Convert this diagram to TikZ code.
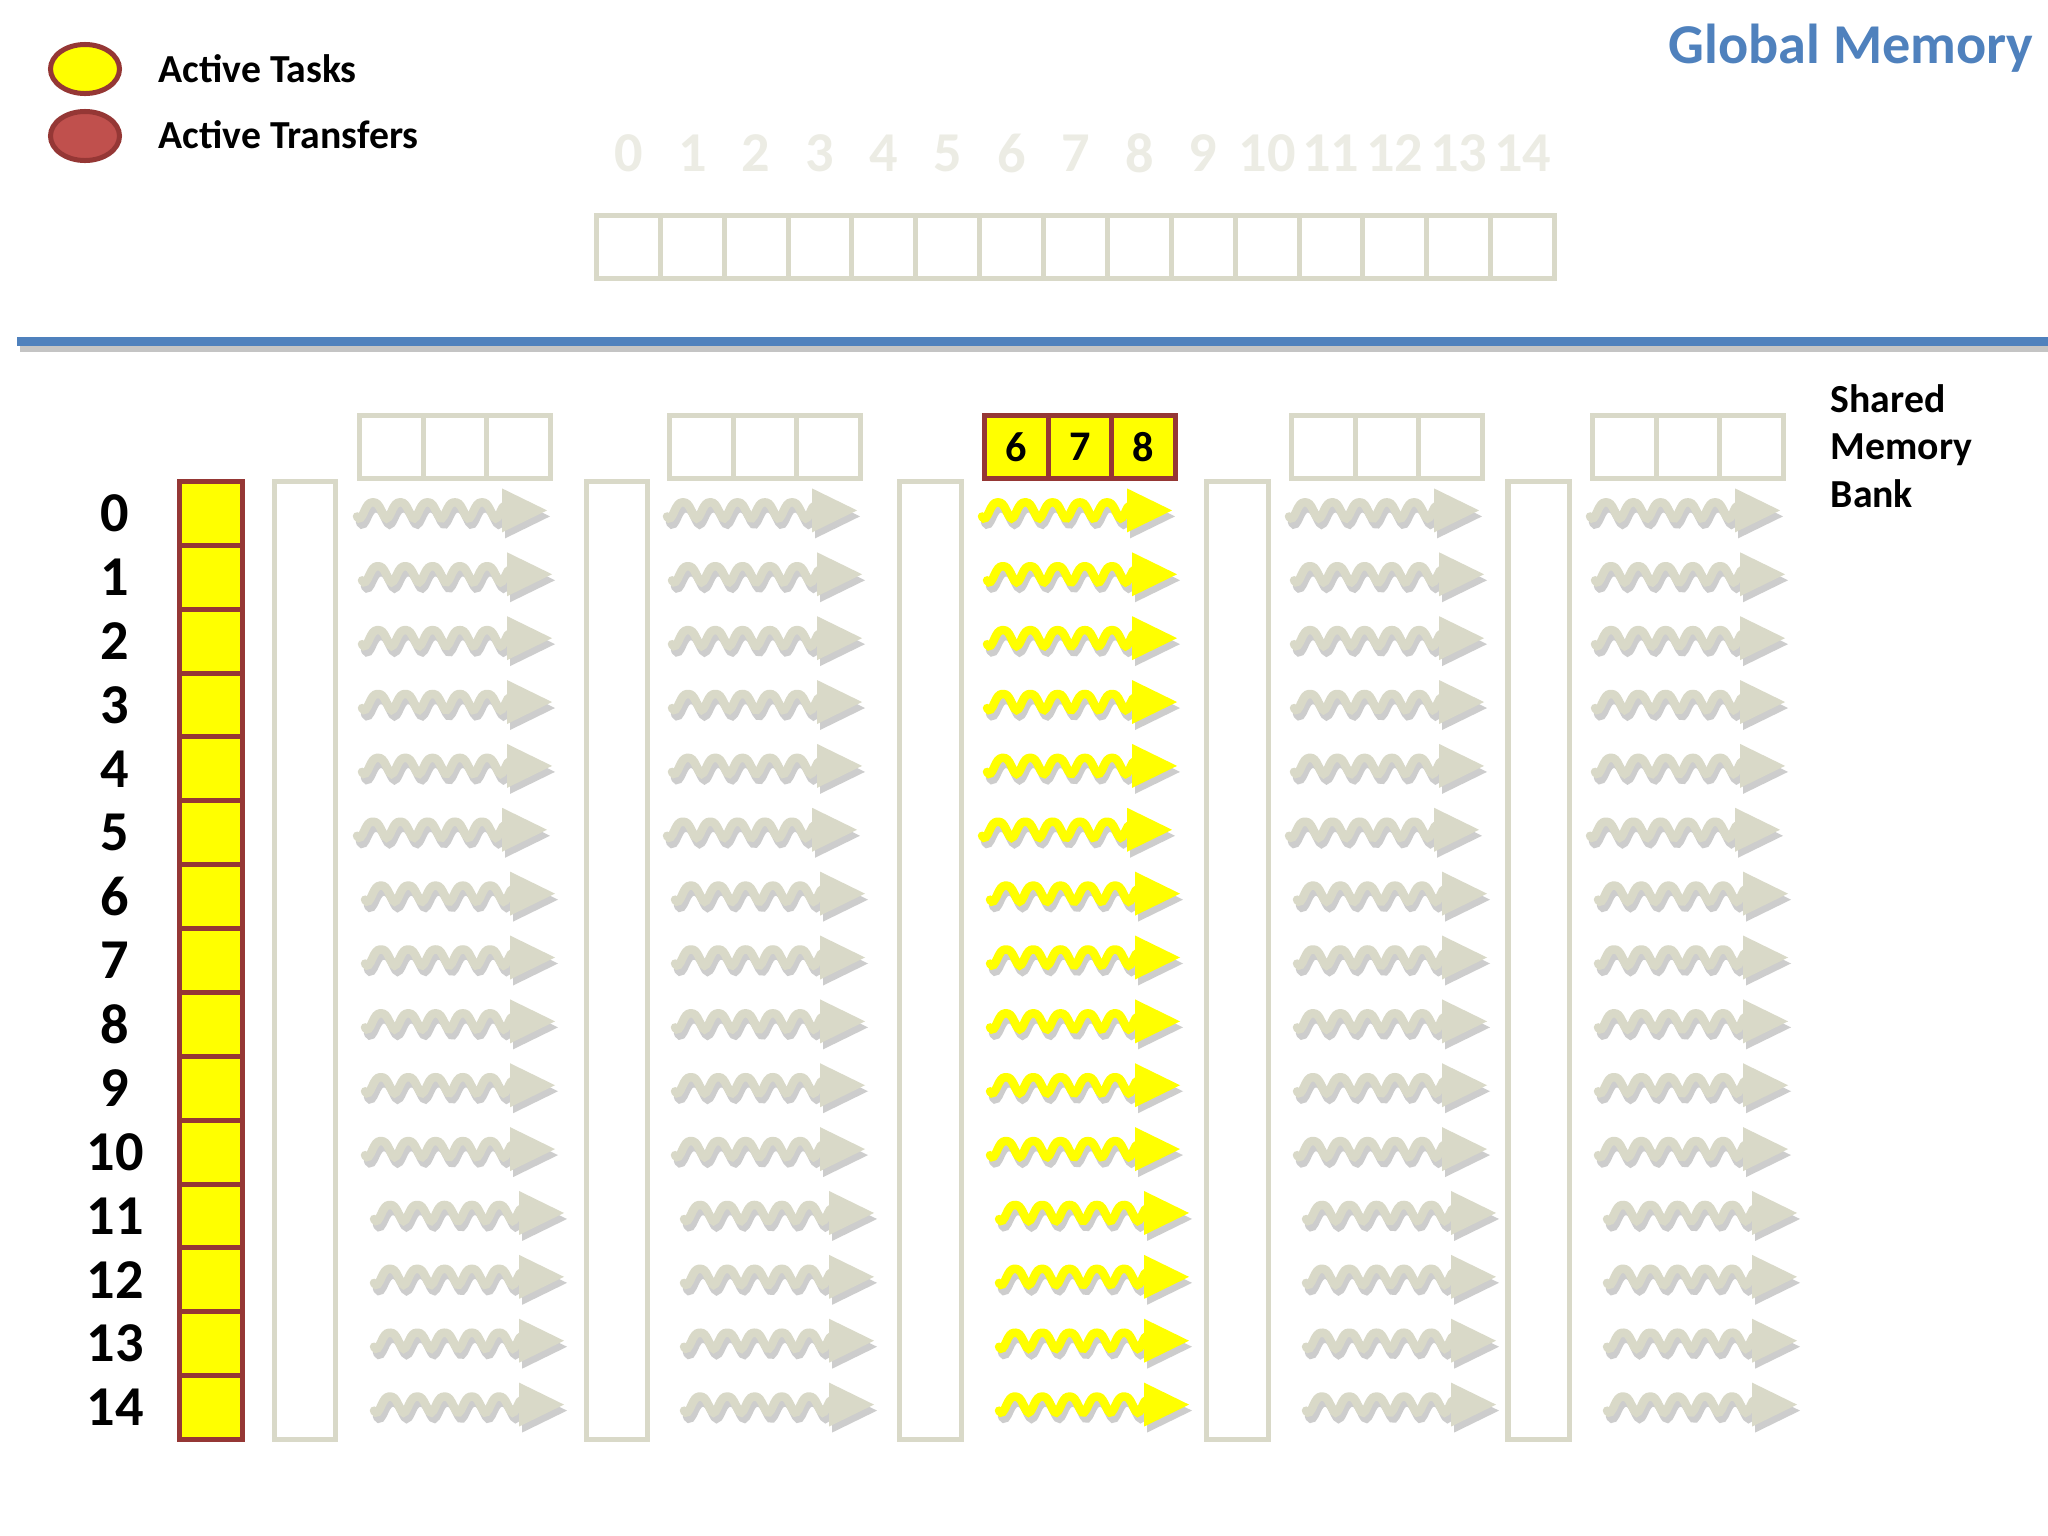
\documentclass[tikz,border=0pt]{standalone}
\usepackage{fontspec}
\setmainfont{Carlito}
\usetikzlibrary{shapes.geometric}
\definecolor{myKhaki}{RGB}{217,217,200}
\definecolor{myPale}{RGB}{236,236,228}
\definecolor{myShadow}{RGB}{205,205,205}
\definecolor{myLineShadow}{RGB}{196,196,196}
\definecolor{myDred}{RGB}{149,55,53}
\definecolor{myLred}{RGB}{192,80,77}
\definecolor{myBlue}{RGB}{79,129,189}
\definecolor{myYel}{RGB}{255,255,0}
\newcommand\wavepath{plot[smooth, domain=2:148, samples=80] (\x,{-(8*(cos(13.2*(\x-18))-0.18*cos(26.4*(\x-18)))+1.44)})}
\newcommand\wavyarrow[3]{%
  \begin{scope}[shift={(#1+3,#2+6)}]
    \draw[myShadow, line width=0.085cm, line cap=round] \wavepath;
    \fill[myShadow] (147,-22) -- (192,0) -- (147,22) -- cycle;
  \end{scope}
  \begin{scope}[shift={(#1,#2)}]
    \draw[#3, line width=0.085cm, line cap=round] \wavepath;
    \fill[#3] (147,-22) -- (192,0) -- (147,22) -- cycle;
  \end{scope}}
\begin{document}
\begin{tikzpicture}[x=0.01cm,y=-0.01cm,
  kcell/.style={draw=myKhaki, line width=0.05cm, minimum width=0.6367cm, minimum height=0.63cm, inner sep=0pt},
  ycell/.style={draw=myDred, fill=myYel, line width=0.05cm, minimum width=0.6367cm, minimum height=0.63cm, inner sep=0pt, font=\bfseries\fontsize{12}{14}\selectfont},
  tallbox/.style={draw=myKhaki, line width=0.05cm, minimum width=0.61cm, minimum height=9.58cm, inner sep=0pt},
  bignum/.style={font=\bfseries\fontsize{16}{18}\selectfont, inner sep=0pt},
  lbl/.style={font=\bfseries\fontsize{11.3}{13}\selectfont, inner sep=0pt, anchor=base west},
  legend/.style={ellipse, line width=0.05cm, draw=myDred, minimum width=0.69cm, minimum height=0.49cm, inner sep=0pt}
]
\useasboundingbox (0,0) rectangle (2048,1536);
\fill[white] (0,0) rectangle (2048,1536);

% legend
\node[legend, fill=myYel] (leg1) at (85,69) {};
\node[legend, fill=myLred] (leg2) at (85,136) {};
\node[lbl] (legt1) at (158,82) {Active Tasks};
\node[lbl] (legt2) at (158,148) {Active Transfers};

% title
\node[lbl, font=\bfseries\fontsize{16}{18}\selectfont, text=myBlue] (title) at (1668,63) {Global Memory};

% global memory cells
\foreach \i in {0,...,14} {
  \node[kcell, minimum width=0.6387cm] (gm\i) at ({628.4+63.87*\i},247) {};
  \node[bignum, text=myPale] (gn\i) at ({628.4+63.87*\i},153) {\i};
}

% divider
\coordinate (divL) at (17,341.5);
\coordinate (divR) at (2048,341.5);
\draw[myLineShadow, line width=0.06cm] ([xshift=0.03cm,yshift=-0.075cm]divL) -- ([yshift=-0.075cm]divR);
\draw[myBlue, line width=0.09cm] (divL) -- (divR);

% shared memory label
\node[lbl] (sm1) at (1830,412) {Shared};
\node[lbl] (sm2) at (1830,459) {Memory};
\node[lbl] (sm3) at (1830,507) {Bank};

% left column and row labels
\foreach \i in {0,...,14} {
  \node[ycell, minimum width=0.63cm, minimum height=0.6387cm] (lc\i) at (211,{513.4+63.87*\i}) {};
  \node[bignum] (rl\i) at (115,{513.4+63.87*\i}) {\i};
}

% tall empty boxes
\foreach \t/\tx in {0/305,1/617,2/930.5,3/1237.5,4/1538.5} {
  \node[tallbox] (tb\t) at (\tx,960.5) {};
}

% shared memory groups
\foreach \g/\gx in {0/357,1/667,3/1289,4/1590} {
  \foreach \k in {0,1,2} {
    \node[kcell] (sg\g c\k) at ({\gx+2.5+31.83+63.67*\k},447) {};
  }
}
\foreach \k/\v in {0/6,1/7,2/8} {
  \node[ycell] (sg2c\k) at ({982+2.5+31.83+63.67*\k},447) {\v};
}

% wavy arrows
\foreach \r/\off in {0/0,1/5,2/5,3/5,4/5,5/0,6/8,7/8,8/8,9/8,10/8,11/17,12/17,13/17,14/17} {
  \foreach \gx in {357,667,1289,1590} {
    \wavyarrow{\gx-2+\off}{510.4+63.87*\r}{myKhaki}
  }
  \wavyarrow{982-2+\off}{510.4+63.87*\r}{myYel}
}
\end{tikzpicture}
\end{document}
